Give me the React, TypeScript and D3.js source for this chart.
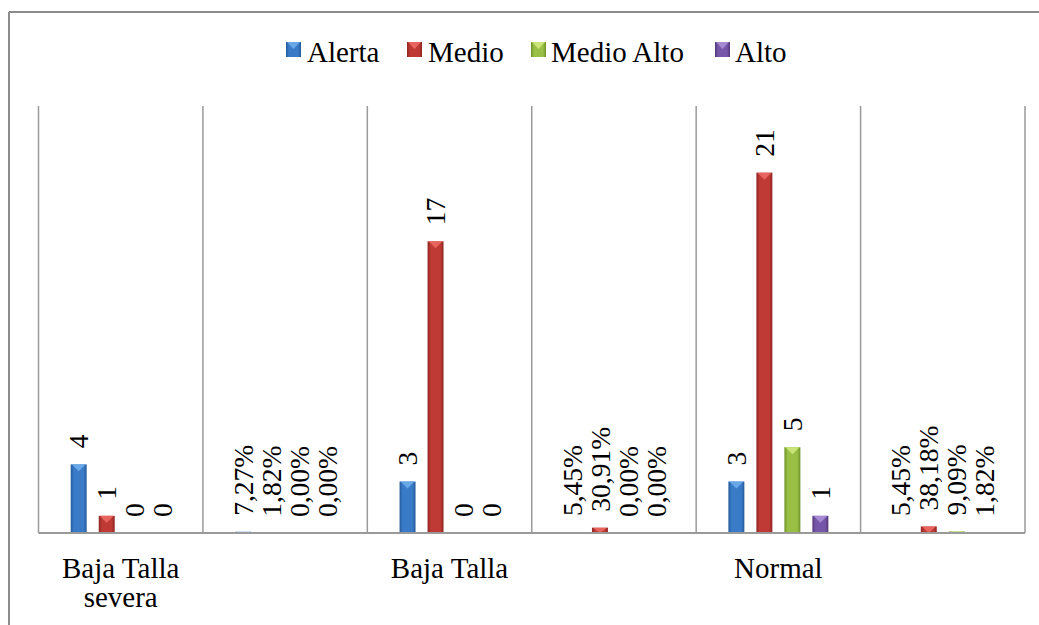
import React, { useEffect, useRef } from "react";
import * as d3 from "d3";

const slots = ["s1", "s2", "s3", "s4", "s5", "s6"];
const slotLabels = [["Baja Talla", "severa"], [], ["Baja Talla"], [], ["Normal"], []];
const seriesNames = ["Alerta", "Medio", "Medio Alto", "Alto"];
const alerta = [4, 0.0727, 3, 0.0545, 3, 0.0545];
const medio = [1, 0.0182, 17, 0.3091, 21, 0.3818];
const medioAlto = [0, 0, 0, 0, 5, 0.0909];
const alto = [0, 0, 0, 0, 1, 0.0182];
const labelTexts = [
  ["4", "7,27%", "3", "5,45%", "3", "5,45%"],
  ["1", "1,82%", "17", "30,91%", "21", "38,18%"],
  ["0", "0,00%", "0", "0,00%", "5", "9,09%"],
  ["0", "0,00%", "0", "0,00%", "1", "1,82%"],
];
const seriesValues = [alerta, medio, medioAlto, alto];

const colors = [
  { dark: "#245a99", mid: "#3a7bc8", light: "#6fadea" },
  { dark: "#8e2420", mid: "#bf3a35", light: "#ec6a64" },
  { dark: "#6f9228", mid: "#99bf45", light: "#cfe87e" },
  { dark: "#523679", mid: "#7656a8", light: "#ab8fd6" },
];

const W = 1039;
const H = 625;
const plotLeft = 38.5;
const plotRight = 1025;
const baseline = 533;
const plotTop = 104;
const FONT = "Liberation Serif";

export default function App() {
  const ref = useRef<SVGSVGElement>(null);

  useEffect(() => {
    const svg = d3.select(ref.current!);
    svg.selectAll("*").remove();

    const x0 = d3.scaleBand<string>().domain(slots).range([plotLeft, plotRight]).padding(0);
    const x1 = d3.scaleBand<string>().domain(seriesNames).range([-56, 56]).paddingInner(0.43).paddingOuter(0.215);
    const y = d3.scaleLinear().domain([0, 25]).range([baseline, plotTop]);
    const bw = x1.bandwidth();

    const defs = svg.append("defs");
    colors.forEach((c, i) => {
      const g = defs.append("linearGradient").attr("id", `g${i}`).attr("x1", 0).attr("x2", 1).attr("y1", 0).attr("y2", 0);
      [[0, c.dark], [0.2, c.mid], [0.8, c.mid], [1, c.dark]].forEach(([o, col]) =>
        g.append("stop").attr("offset", o as number).attr("stop-color", col as string)
      );
    });

    svg.append("rect").attr("width", W).attr("height", H).attr("fill", "#fff");
    svg.append("line").attr("x1", 9).attr("y1", 12).attr("x2", W).attr("y2", 12).attr("stroke", "#8c8c8c").attr("stroke-width", 2);
    svg.append("line").attr("x1", 9).attr("y1", 12).attr("x2", 9).attr("y2", H).attr("stroke", "#8c8c8c").attr("stroke-width", 2);

    const legendItems = [
      { sq: 286, tx: 307 },
      { sq: 407, tx: 428 },
      { sq: 531, tx: 551 },
      { sq: 715, tx: 735 },
    ];
    seriesNames.forEach((s, i) => {
      const li = legendItems[i];
      svg.append("rect").attr("x", li.sq).attr("y", 42).attr("width", 15).attr("height", 15).attr("fill", `url(#g${i})`);
      svg.append("path")
        .attr("d", `M${li.sq + 1},42 L${li.sq + 14},42 L${li.sq + 7.5},49 Z`)
        .attr("fill", colors[i].light)
        .attr("opacity", 0.9);
      svg.append("text")
        .attr("x", li.tx)
        .attr("y", 62)
        .attr("font-family", FONT)
        .style("font-family", FONT)
        .attr("font-size", 29)
        .attr("fill", "#000")
        .text(s);
    });

    slots.forEach((s) => {
      svg.append("line").attr("x1", x0(s)!).attr("x2", x0(s)!).attr("y1", plotTop + 2).attr("y2", baseline)
        .attr("stroke", "#9a9a9a").attr("stroke-width", 1.5);
    });
    svg.append("line").attr("x1", plotRight).attr("x2", plotRight).attr("y1", plotTop + 2).attr("y2", baseline)
      .attr("stroke", "#9a9a9a").attr("stroke-width", 1.5);

    seriesValues.forEach((vals, si) => {
      vals.forEach((v, ci) => {
        const cx = x0(slots[ci])! + x0.bandwidth() / 2 + x1(seriesNames[si])! + bw / 2;
        const top = y(v);
        const h = baseline - top;
        const bx = cx - bw / 2;
        if (h > 0) {
          svg.append("rect").attr("x", bx).attr("y", top).attr("width", bw).attr("height", h).attr("fill", `url(#g${si})`);
        }
        if (h > 1.5) {
          const chev = Math.min(7, h);
          svg.append("path")
            .attr("d", `M${bx + 1},${top} L${bx + bw - 1},${top} L${cx},${top + chev} Z`)
            .attr("fill", colors[si].light)
            .attr("opacity", 0.9);
        }
        svg.append("text")
          .attr("transform", `translate(${cx},${top - 16}) rotate(-90)`)
          .attr("dy", "0.35em")
          .attr("font-family", FONT)
          .style("font-family", FONT)
          .attr("font-size", 27.5)
          .attr("fill", "#000")
          .text(labelTexts[si][ci]);
      });
    });

    svg.append("line").attr("x1", plotLeft).attr("x2", plotRight).attr("y1", baseline).attr("y2", baseline)
      .attr("stroke", "#9a9a9a").attr("stroke-width", 2);

    slots.forEach((s, i) => {
      slotLabels[i].forEach((t, li) => {
        svg.append("text")
          .attr("x", x0(s)! + x0.bandwidth() / 2)
          .attr("y", 578 + li * 29)
          .attr("text-anchor", "middle")
          .attr("font-family", FONT)
          .style("font-family", FONT)
          .attr("font-size", 29)
          .attr("fill", "#000")
          .text(t);
      });
    });
  }, []);

  return <svg ref={ref} width={W} height={H} style={{ position: "absolute", left: 0, top: 0 }} />;
}
